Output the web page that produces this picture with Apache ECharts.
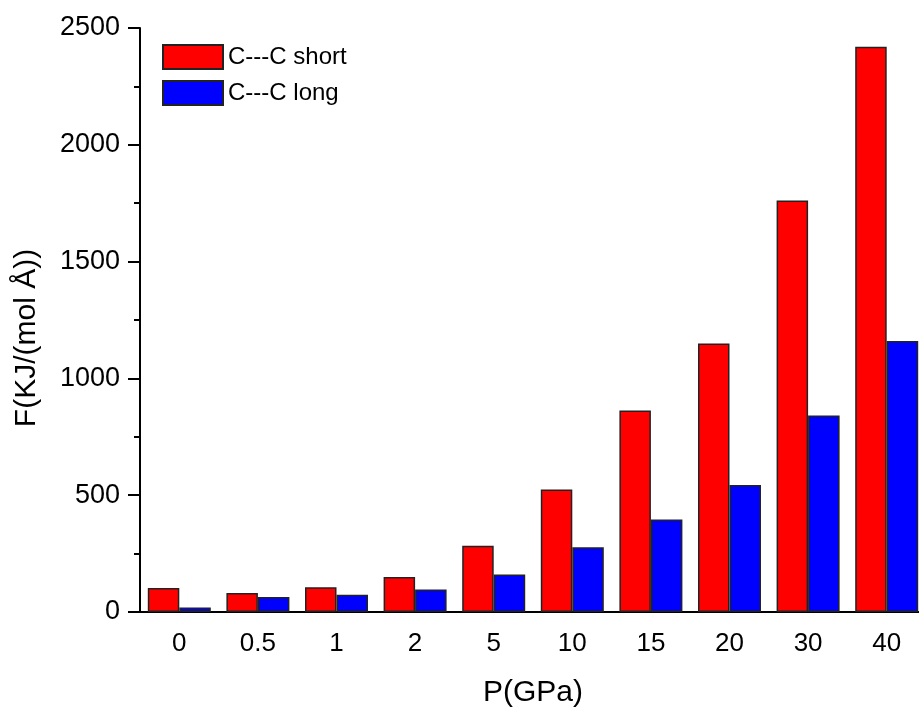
<!DOCTYPE html>
<html>
<head>
<meta charset="utf-8">
<script src="https://cdn.jsdelivr.net/npm/echarts@6/dist/echarts.min.js"></script>
<style>
    html, body { margin: 0; padding: 0; background: #fff; }
    #chart_div { width: 919px; height: 708px; }
</style>
</head>
<body>
<div id="chart_div"></div>
<script>
    // pressure points (GPa)
    const categories = ['0', '0.5', '1', '2', '5', '10', '15', '20', '30', '40'];
    // force values
    const shortValues = [103, 81, 106, 150, 284, 524, 863, 1149, 1762, 2420];
    const longValues = [19, 64, 74, 96, 160, 277, 396, 544, 841, 1160];
    const yTicks = [0, 500, 1000, 1500, 2000, 2500];

    const fontName = '"Liberation Sans", Arial, sans-serif';

    let myChart = echarts.init(document.getElementById('chart_div'));
    myChart.setOption({
        animation: false,
        backgroundColor: '#ffffff',
        textStyle: { fontFamily: fontName },
        grid: {
            left: 140,
            top: 28,
            bottom: 96,
            width: 786,   // the right end of the plot is cut off in the original
            containLabel: false,
            outerBoundsMode: 'none'
        },
        legend: {
            left: 157,
            top: 39,
            orient: 'vertical',
            icon: 'rect',
            itemWidth: 60,
            itemHeight: 24,
            itemGap: 10,
            textStyle: { fontSize: 24, lineHeight: 24, color: '#000', fontFamily: fontName },
            data: ['C---C short', 'C---C long']
        },
        xAxis: {
            type: 'category',
            data: categories,
            name: 'P(GPa)',
            nameLocation: 'middle',
            nameGap: 66,
            nameTextStyle: { fontSize: 30, color: '#000', fontFamily: fontName },
            axisLine: { lineStyle: { color: '#000', width: 2 } },
            axisTick: { alignWithLabel: true, length: 12, lineStyle: { color: '#000', width: 2 } },
            axisLabel: { fontSize: 26, color: '#000', margin: 19, fontFamily: fontName }
        },
        yAxis: {
            type: 'value',
            min: yTicks[0],
            max: yTicks[yTicks.length - 1],
            interval: 500,
            name: 'F(KJ/(mol Å))',
            nameLocation: 'middle',
            nameRotate: 90,
            nameGap: 98,
            nameTextStyle: { fontSize: 30, color: '#000', fontFamily: fontName, padding: [0, 36, 0, 0] },
            axisLine: { show: true, lineStyle: { color: '#000', width: 2 } },
            axisTick: { show: true, length: 12, lineStyle: { color: '#000', width: 2 } },
            minorTick: { show: true, splitNumber: 2, length: 6, lineStyle: { color: '#000', width: 2 } },
            splitLine: { show: false },
            axisLabel: {
                fontSize: 27, color: '#000', margin: 20, fontFamily: fontName,
                formatter: function (v) { return String(v); }
            }
        },
        series: [
            {
                name: 'C---C short',
                type: 'bar',
                data: shortValues,
                barWidth: 31.5,
                barGap: '0%',
                itemStyle: { color: '#ff0000', borderColor: '#222', borderWidth: 1.5 }
            },
            {
                name: 'C---C long',
                type: 'bar',
                data: longValues,
                barWidth: 31.5,
                barGap: '0%',
                itemStyle: { color: '#0000ff', borderColor: '#222', borderWidth: 1.5 }
            }
        ]
    });
</script>
</body>
</html>
